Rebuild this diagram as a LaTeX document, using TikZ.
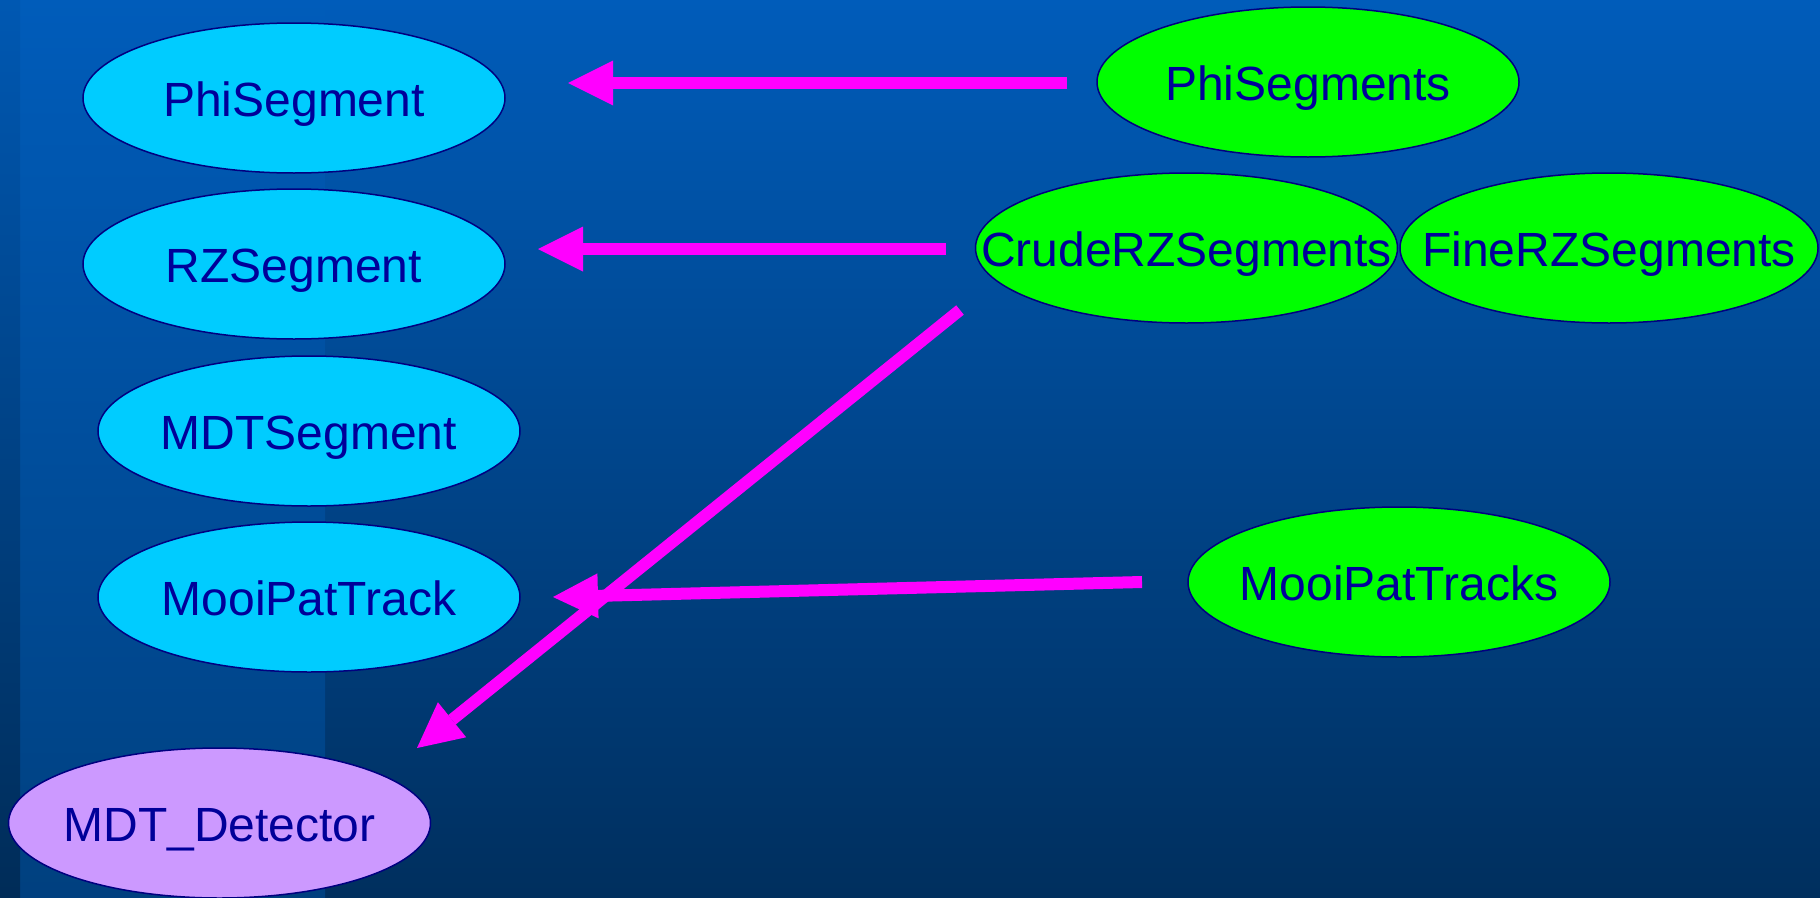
\documentclass[tikz,border=0pt]{standalone}
\usepackage{fontspec}
\setmainfont{Liberation Sans}
\usetikzlibrary{arrows.meta,shapes.geometric}

\definecolor{bgtop}{HTML}{005CBA}
\definecolor{bgbottom}{HTML}{002F5E}
\definecolor{bandbottom}{HTML}{00407F}
\definecolor{edgetop}{HTML}{0058B2}
\definecolor{edgebottom}{HTML}{002C58}
\definecolor{rimblue}{HTML}{000080}
\definecolor{labelblue}{HTML}{000099}
\definecolor{classcyan}{HTML}{00CCFF}
\definecolor{collgreen}{HTML}{00FF00}
\definecolor{detlilac}{HTML}{CC99FF}
\definecolor{linkmagenta}{HTML}{FF00FF}

\begin{document}
\begin{tikzpicture}[x=1pt,y=-1pt,
  bubble/.style={ellipse,draw=rimblue,line width=1.5pt,minimum width=422pt,minimum height=150pt,inner sep=0pt},
  classbubble/.style={bubble,fill=classcyan},
  collbubble/.style={bubble,fill=collgreen},
  detbubble/.style={bubble,fill=detlilac},
  lbl/.style={text=labelblue,font=\fontsize{48pt}{48pt}\selectfont,text height=34.4pt,text depth=0pt,inner sep=0pt,yshift=-1.5pt},
  link/.style={draw=linkmagenta,line width=12pt,-{Triangle[length=45pt,width=45pt,line width=0pt]}}]

% slide background
\useasboundingbox (0,0) rectangle (1820,897);
\shade[top color=bgtop,bottom color=bgbottom] (0,0) rectangle (1820,897);
\shade[top color=bgtop,bottom color=bandbottom] (20,0) rectangle (325,897);
\shade[top color=edgetop,bottom color=edgebottom] (0,0) rectangle (20,897);

% class ellipses on the left
\node[classbubble] (phiseg) at (294,98) {};
\node[lbl] at (phiseg) {PhiSegment};
\node[classbubble] (rzseg) at (294,264) {};
\node[lbl] at (rzseg) {RZSegment};
\node[classbubble] (mdtseg) at (309,431) {};
\node[lbl] at (mdtseg) {MDTSegment};
\node[classbubble] (mooitrack) at (309,597) {};
\node[lbl] at (mooitrack) {MooiPatTrack};
\node[detbubble] (mdtdet) at (219.5,823) {};
\node[lbl] at (mdtdet) {MDT\_Detector};

% collections on the right
\node[collbubble] (phisegs) at (1308,82) {};
\node[lbl] at (phisegs) {PhiSegments};
\node[collbubble] (crudesegs) at (1186.5,248) {};
\node[lbl] at (crudesegs) {CrudeRZSegments};
\node[collbubble,minimum width=418pt] (finesegs) at (1609,248) {};
\node[lbl] at (finesegs) {FineRZSegments};
\node[collbubble] (mooitracks) at (1399,582) {};
\node[lbl] at (mooitracks) {MooiPatTracks};

% arrow end points, kept clear of the ellipses
\coordinate (phifrom) at (1067,83);
\coordinate (phito) at (568,83);
\coordinate (rzfrom) at (946,249);
\coordinate (rzto) at (538,249);
\coordinate (detfrom) at (960,310);
\coordinate (detto) at (417,748);
\coordinate (trackfrom) at (1142,582);
\coordinate (trackto) at (553,597);

\draw[link] (phifrom) -- (phito);
\draw[link] (rzfrom) -- (rzto);
\draw[link] (detfrom) -- (detto);
\draw[link] (trackfrom) -- (trackto);
\end{tikzpicture}
\end{document}
